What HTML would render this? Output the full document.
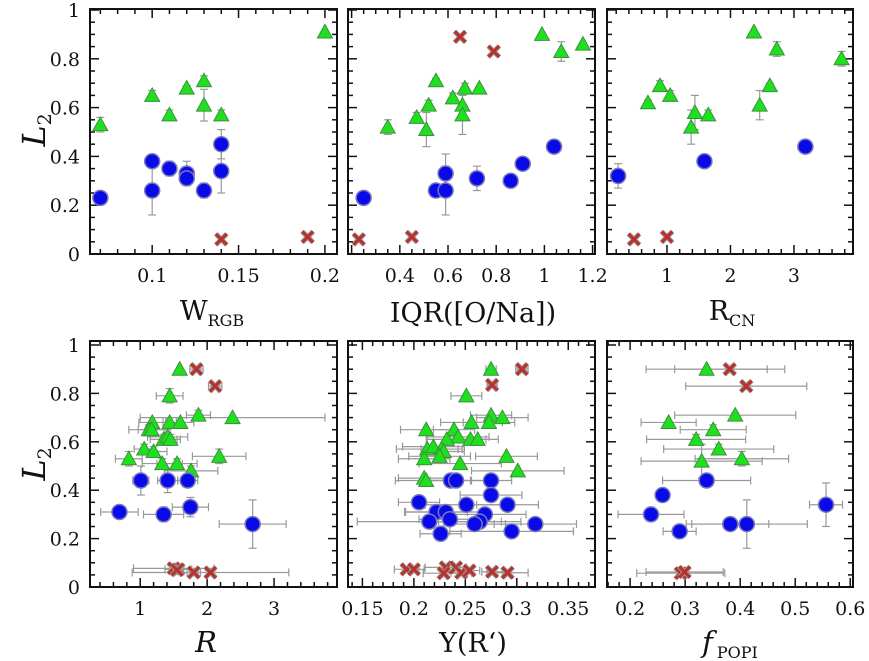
<!DOCTYPE html>
<html><head><meta charset="utf-8">
<style>
html,body{margin:0;padding:0;background:#fff;}
svg{display:block;font-family:"DejaVu Serif","Liberation Serif",serif;}
</style></head>
<body>
<svg id="chart" width="869" height="661" viewBox="0 0 869 661" xmlns="http://www.w3.org/2000/svg"></svg>
<script>
// ---------- DATA ----------
// Panel 1: W_RGB
const wrgbTriX=[0.07,0.10,0.11,0.12,0.13,0.13,0.14,0.20];
const wrgbTriY=[0.53,0.65,0.57,0.68,0.71,0.61,0.57,0.91];
const wrgbTriYe=[0.03,0.02,0.02,0.01,0.02,0.065,0.02,0];
const wrgbCirX=[0.07,0.10,0.10,0.11,0.12,0.12,0.13,0.14,0.14];
const wrgbCirY=[0.23,0.38,0.26,0.35,0.33,0.31,0.26,0.45,0.34];
const wrgbCirYe=[0.02,0,0.1,0.03,0.05,0.02,0.03,0.06,0.09];
const wrgbCroX=[0.14,0.19];
const wrgbCroY=[0.06,0.07];
// Panel 2: IQR([O/Na])
const iqrTriX=[0.35,0.47,0.51,0.52,0.55,0.62,0.66,0.66,0.67,0.73,0.99,1.07,1.16];
const iqrTriY=[0.52,0.56,0.51,0.61,0.71,0.64,0.61,0.57,0.68,0.68,0.90,0.83,0.86];
const iqrTriYe=[0.03,0.02,0.07,0.02,0.01,0.02,0.04,0.08,0.02,0,0,0.04,0];
const iqrCirX=[0.25,0.55,0.59,0.59,0.72,0.86,0.91,1.04];
const iqrCirY=[0.23,0.26,0.26,0.33,0.31,0.30,0.37,0.44];
const iqrCirYe=[0.02,0.02,0.1,0.08,0.05,0.02,0,0];
const iqrCroX=[0.23,0.45,0.65,0.79];
const iqrCroY=[0.06,0.07,0.89,0.83];
// Panel 3: R_CN
const rcnTriX=[0.70,0.89,1.05,1.38,1.44,1.65,2.37,2.46,2.62,2.73,3.75];
const rcnTriY=[0.62,0.69,0.65,0.52,0.58,0.57,0.91,0.61,0.69,0.84,0.80];
const rcnTriYe=[0.01,0.02,0.02,0.07,0.07,0.02,0,0.06,0.01,0.03,0.03];
const rcnCirX=[0.23,1.59,3.18];
const rcnCirY=[0.32,0.38,0.44];
const rcnCirYe=[0.05,0,0];
const rcnCroX=[0.48,1.0];
const rcnCroY=[0.06,0.07];
// Panel 4: R
const rTriX=[1.59,1.44,1.87,2.38,1.18,1.44,1.60,1.13,1.17,1.35,1.41,1.45,1.06,1.20,0.83,1.33,1.55,1.76,2.18];
const rTriY=[0.90,0.79,0.71,0.70,0.68,0.68,0.68,0.65,0.65,0.61,0.62,0.61,0.57,0.56,0.53,0.51,0.51,0.48,0.54];
const rTriXe=[0,0.2,0.18,1.38,0.2,0.1,0.2,0.3,0.2,0.2,0.3,0.15,0.15,0.2,0.2,0.3,0.3,0.4,0.4];
const rTriYe=[0,0.03,0.02,0,0.02,0.02,0.02,0.02,0.02,0.02,0.03,0.02,0.02,0.02,0.03,0.02,0.02,0.02,0.03];
const rCirX=[1.01,1.41,1.71,0.69,1.35,1.75,2.68];
const rCirY=[0.44,0.44,0.44,0.31,0.30,0.33,0.26];
const rCirXe=[0.12,0.15,0.15,0.28,0.3,0.27,0.5];
const rCirYe=[0.06,0.05,0.02,0.02,0.03,0.04,0.1];
const rCroX=[1.84,2.12,1.50,1.57,1.55,1.80,2.05];
const rCroY=[0.90,0.83,0.077,0.073,0.07,0.06,0.06];
const rCroXe=[0.1,0.1,0.6,0.2,0.1,0.1,1.17];
// Panel 5: Y(R')
const yTriX=[0.275,0.251,0.275,0.286,0.256,0.273,0.212,0.239,0.243,0.232,0.255,0.262,0.213,0.219,0.227,0.229,0.225,0.210,0.245,0.290,0.301,0.210,0.212];
const yTriY=[0.90,0.79,0.71,0.70,0.68,0.68,0.65,0.65,0.62,0.61,0.61,0.61,0.57,0.58,0.57,0.56,0.54,0.53,0.51,0.54,0.48,0.45,0.44];
const yTriXe=[0.005,0.015,0.02,0.025,0.03,0.025,0.025,0.02,0.03,0.02,0.015,0.02,0.03,0.03,0.02,0.02,0.03,0.025,0.04,0.03,0.045,0.025,0.03];
const yCirX=[0.236,0.241,0.275,0.275,0.205,0.251,0.291,0.222,0.231,0.235,0.269,0.264,0.259,0.215,0.318,0.295,0.226];
const yCirY=[0.44,0.44,0.44,0.38,0.35,0.34,0.34,0.31,0.31,0.28,0.30,0.27,0.26,0.27,0.26,0.23,0.22];
const yCirXe=[0.02,0.03,0.02,0.03,0.02,0.04,0.03,0.03,0.04,0.03,0.04,0.04,0.03,0.07,0.04,0.06,0.02];
const yCroX=[0.193,0.200,0.231,0.229,0.241,0.246,0.254,0.276,0.291,0.276,0.305];
const yCroY=[0.073,0.073,0.081,0.057,0.081,0.059,0.068,0.063,0.059,0.835,0.90];
const yCroXe=[0.012,0.01,0.02,0.02,0.01,0.01,0.01,0.01,0.02,0.005,0.006];
// Panel 6: f_POPI
const fTriX=[0.339,0.391,0.270,0.351,0.320,0.361,0.403,0.330];
const fTriY=[0.90,0.71,0.68,0.65,0.61,0.57,0.53,0.52];
const fTriXe=[0.11,0.11,0.05,0.06,0.09,0.1,0.085,0.11];
const fTriYe=[0,0.01,0,0.02,0.02,0.02,0.03,0.07];
const fCirX=[0.339,0.259,0.556,0.238,0.382,0.412,0.290];
const fCirY=[0.44,0.38,0.34,0.30,0.26,0.26,0.23];
const fCirXe=[0.08,0.01,0.03,0.06,0.07,0.11,0.03];
const fCirYe=[0,0,0.09,0.02,0.02,0.1,0];
const fCroX=[0.381,0.411,0.292,0.299];
const fCroY=[0.90,0.83,0.057,0.062];
const fCroXe=[0.1,0.11,0.08,0.07];

// ---------- DRAWING ----------
const svg=document.getElementById('chart');
const NS='http://www.w3.org/2000/svg';
function mk(tag,attrs,parent){const e=document.createElementNS(NS,tag);for(const k in attrs)e.setAttribute(k,attrs[k]);(parent||svg).appendChild(e);return e;}

function makePanel(name,px0,px1,d0,d1,top,bot,y1px,major,minor,labels,showY){
  const g=mk('g',{});
  
  
  const sx=v=>px0+(v-d0)/(d1-d0)*(px1-px0);
  const sy=v=>bot-v*(bot-y1px);
  const tg=mk('g',{stroke:'#111','stroke-width':1.5},g);
  
  
  const eps=1e-9;
  for(let v=Math.ceil(d0/minor-eps)*minor; v<=d1+eps; v+=minor){
    const isMaj=Math.abs(v/major-Math.round(v/major))<1e-6;
    const L=isMaj?9:5, x=sx(v);
    mk('line',{x1:x,y1:bot,x2:x,y2:bot-L},tg);
    mk('line',{x1:x,y1:top,x2:x,y2:top+L},tg);
  }
  for(let i=0;i<=20;i++){
    const v=i*0.05, y=sy(v); if(y<top) continue;
    const L=(i%4===0)?9:5;
    mk('line',{x1:px0,y1:y,x2:px0+L,y2:y},tg);
    mk('line',{x1:px1,y1:y,x2:px1-L,y2:y},tg);
  }
  const fr=mk('rect',{x:px0,y:top,width:px1-px0,height:bot-top,fill:'none',stroke:'#111','stroke-width':2},g);
  
  
  labels.forEach(l=>{
    const t=mk('text',{x:sx(l),y:bot+28,'text-anchor':'middle','font-size':19,fill:'#111'},g);
    t.textContent=String(l);
    
    
  });
  if(showY){
    [0,0.2,0.4,0.6,0.8,1].forEach(v=>{
      const t=mk('text',{x:px0-10,y:sy(v)+7,'text-anchor':'end','font-size':19,fill:'#111'},g);
      t.textContent=String(v);
      
      
    });
  }
  return {g,sx,sy};
}

function errs(P,X,Y,Xe,Ye){
  const eg=mk('g',{stroke:'#999','stroke-width':1.2,fill:'none'},P.g);
  
  
  for(let i=0;i<X.length;i++){
    const x=P.sx(X[i]), y=P.sy(Y[i]);
    if(Xe&&Xe[i]>0){
      const a=P.sx(X[i]-Xe[i]), b=P.sx(X[i]+Xe[i]);
      mk('line',{x1:a,y1:y,x2:b,y2:y},eg);
      mk('line',{x1:a,y1:y-4,x2:a,y2:y+4},eg);
      mk('line',{x1:b,y1:y-4,x2:b,y2:y+4},eg);
    }
    if(Ye&&Ye[i]>0){
      const a=P.sy(Y[i]-Ye[i]), b=P.sy(Y[i]+Ye[i]);
      mk('line',{x1:x,y1:a,x2:x,y2:b},eg);
      mk('line',{x1:x-4,y1:a,x2:x+4,y2:a},eg);
      mk('line',{x1:x-4,y1:b,x2:x+4,y2:b},eg);
    }
  }
}
function tris(P,X,Y){
  for(let i=0;i<X.length;i++){
    const x=P.sx(X[i]), y=P.sy(Y[i]);
    const p=mk('polygon',{points:`${x-7.5},${y+6} ${x+7.5},${y+6} ${x},${y-7.5}`,fill:'#1fe01f',stroke:'#3d8f3d','stroke-width':1},P.g);
    
    
  }
}
function circs(P,X,Y){
  for(let i=0;i<X.length;i++){
    const c=mk('circle',{cx:P.sx(X[i]),cy:P.sy(Y[i]),r:7.5,fill:'#0a0ae8',stroke:'#7777bb','stroke-width':1.5},P.g);
    
    
  }
}
function crosses(P,X,Y){
  for(let i=0;i<X.length;i++){
    const x=P.sx(X[i]), y=P.sy(Y[i]), s=5.5;
    const g=mk('g',{},P.g);
    
    
    [['#999',5],['#b8312b',3]].forEach(([c,w])=>{
      mk('line',{x1:x-s,y1:y-s,x2:x+s,y2:y+s,stroke:c,'stroke-width':w},g);
      mk('line',{x1:x-s,y1:y+s,x2:x+s,y2:y-s,stroke:c,'stroke-width':w},g);
    });
  }
}

const T=[9,254,10], B=[341,587,345];
let P=makePanel('wrgb',90,337,0.064,0.207,T[0],T[1],T[2],0.05,0.01,[0.1,0.15,0.2],true);
errs(P,wrgbTriX,wrgbTriY,null,wrgbTriYe);errs(P,wrgbCirX,wrgbCirY,null,wrgbCirYe);
tris(P,wrgbTriX,wrgbTriY);circs(P,wrgbCirX,wrgbCirY);crosses(P,wrgbCroX,wrgbCroY);

P=makePanel('iqr',348,595,0.185,1.21,T[0],T[1],T[2],0.2,0.05,[0.4,0.6,0.8,1,1.2],false);
errs(P,iqrTriX,iqrTriY,null,iqrTriYe);errs(P,iqrCirX,iqrCirY,null,iqrCirYe);
tris(P,iqrTriX,iqrTriY);circs(P,iqrCirX,iqrCirY);crosses(P,iqrCroX,iqrCroY);

P=makePanel('rcn',607,853,0.055,3.93,T[0],T[1],T[2],1,0.2,[1,2,3],false);
errs(P,rcnTriX,rcnTriY,null,rcnTriYe);errs(P,rcnCirX,rcnCirY,null,rcnCirYe);
tris(P,rcnTriX,rcnTriY);circs(P,rcnCirX,rcnCirY);crosses(P,rcnCroX,rcnCroY);

P=makePanel('r',90,337,0.25,3.94,B[0],B[1],B[2],1,0.2,[1,2,3],true);
errs(P,rTriX,rTriY,rTriXe,rTriYe);errs(P,rCirX,rCirY,rCirXe,rCirYe);errs(P,rCroX,rCroY,rCroXe,null);
tris(P,rTriX,rTriY);circs(P,rCirX,rCirY);crosses(P,rCroX,rCroY);

P=makePanel('yr',348,595,0.136,0.376,B[0],B[1],B[2],0.05,0.01,[0.15,0.2,0.25,0.3,0.35],false);
errs(P,yTriX,yTriY,yTriXe,null);errs(P,yCirX,yCirY,yCirXe,null);errs(P,yCroX,yCroY,yCroXe,null);
tris(P,yTriX,yTriY);circs(P,yCirX,yCirY);crosses(P,yCroX,yCroY);

P=makePanel('fpopi',607,853,0.158,0.605,B[0],B[1],B[2],0.1,0.02,[0.2,0.3,0.4,0.5,0.6],false);
errs(P,fTriX,fTriY,fTriXe,fTriYe);errs(P,fCirX,fCirY,fCirXe,fCirYe);errs(P,fCroX,fCroY,fCroXe,null);
tris(P,fTriX,fTriY);circs(P,fCirX,fCirY);crosses(P,fCroX,fCroY);
</script>
<div style="position:absolute;left:0;top:0;width:869px;height:661px;pointer-events:none;">
<svg width="869" height="661" style="position:absolute;left:0;top:0" font-family="DejaVu Serif, Liberation Serif, serif" fill="#111">
  <text transform="translate(45,130) rotate(-90)" text-anchor="middle" font-size="32" font-style="italic">L<tspan font-size="19" font-style="normal" dy="6">2</tspan></text>
  <text transform="translate(45,464) rotate(-90)" text-anchor="middle" font-size="32" font-style="italic">L<tspan font-size="19" font-style="normal" dy="6">2</tspan></text>
  <text x="212" y="320" text-anchor="middle" font-size="27">W<tspan font-size="16" dy="6">RGB</tspan></text>
  <text x="473" y="322" text-anchor="middle" font-size="27">IQR([O/Na])</text>
  <text x="732" y="320" text-anchor="middle" font-size="27">R<tspan font-size="16" dy="6">CN</tspan></text>
  <text x="206" y="652" text-anchor="middle" font-size="29" font-style="italic">R</text>
  <text x="473" y="652" text-anchor="middle" font-size="27">Y(R‘)</text>
  <text x="730" y="652" text-anchor="middle" font-size="29" font-style="italic">f<tspan font-size="16" font-style="normal" dy="6" dx="4">POPI</tspan></text>
</svg>
</div>
</body></html>
